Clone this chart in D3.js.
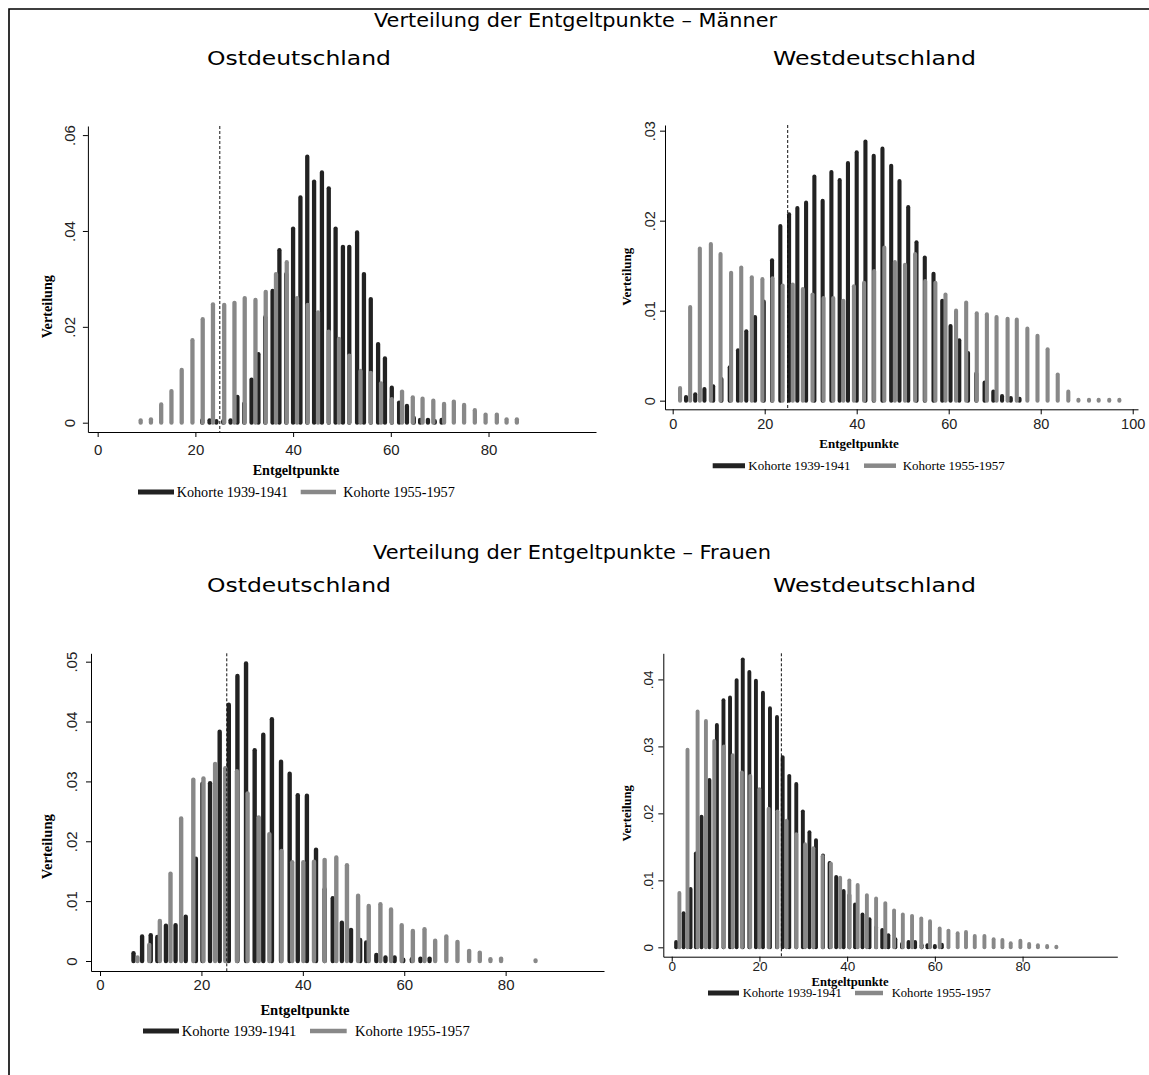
<!DOCTYPE html>
<html>
<head>
<meta charset="utf-8">
<script src="https://cdn.jsdelivr.net/npm/d3@7"></script>
<style>
  body { margin: 0; background: #fff; }
</style>
</head>
<body>
<svg id="chart" width="1149" height="1075"></svg>
<script>
// Entgeltpunkte (x) und Verteilung (y)
// Ostdeutschland, Maenner
var ostM1939X = [21.4, 22.9, 24.3, 25.7, 27.2, 28.6, 30.0, 31.5, 32.9, 34.3, 35.8, 37.2, 38.6, 40.0, 41.5, 42.9, 44.3, 45.9, 47.3, 48.7, 50.2, 51.5, 53.1, 54.5, 55.9, 57.4, 58.8, 60.2, 61.7, 63.3, 64.7, 66.0, 67.6, 69.0, 70.4];
var ostM1939Y = [0.0005, 0.0005, 0.0003, 0.0003, 0.0005, 0.0054, 0.004, 0.009, 0.0143, 0.022, 0.0275, 0.036, 0.031, 0.0405, 0.047, 0.0555, 0.0503, 0.0522, 0.0489, 0.0405, 0.0367, 0.0367, 0.0397, 0.031, 0.0258, 0.0164, 0.0134, 0.0073, 0.0042, 0.0035, 0.001, 0.0006, 0.0006, 0.0003, 0.0006];
var ostM1955X = [8.8, 10.9, 13.0, 15.1, 17.2, 19.4, 21.5, 23.6, 25.9, 28.0, 30.1, 32.3, 34.4, 36.5, 38.7, 40.8, 43.0, 45.1, 47.3, 49.4, 51.5, 53.8, 55.9, 58.0, 60.2, 62.3, 64.5, 66.5, 68.7, 70.9, 72.9, 75.0, 77.2, 79.4, 81.7, 83.7, 85.8];
var ostM1955Y = [0.0005, 0.0007, 0.0038, 0.0066, 0.011, 0.0172, 0.0216, 0.0247, 0.0246, 0.025, 0.026, 0.0256, 0.0273, 0.031, 0.0335, 0.026, 0.0246, 0.023, 0.019, 0.0175, 0.014, 0.0108, 0.0104, 0.0082, 0.0049, 0.0065, 0.0053, 0.005, 0.0046, 0.0039, 0.0044, 0.0037, 0.0026, 0.0017, 0.0017, 0.0007, 0.0007];

// Westdeutschland, Maenner
var westM1939X = [2.9, 4.9, 6.9, 8.8, 10.6, 12.4, 14.2, 16.0, 17.9, 19.8, 21.6, 23.4, 25.3, 27.1, 29.0, 30.8, 32.6, 34.5, 36.3, 38.1, 40.0, 41.9, 43.7, 45.6, 47.5, 49.3, 51.2, 53.0, 54.8, 56.7, 58.6, 60.4, 62.3, 64.2, 66.0, 67.8, 69.7, 71.6, 73.5, 75.4];
var westM1939Y = [0.0004, 0.0007, 0.0013, 0.0016, 0.0024, 0.0037, 0.0056, 0.0077, 0.0093, 0.011, 0.0156, 0.0194, 0.0207, 0.0214, 0.022, 0.0249, 0.0222, 0.0254, 0.0245, 0.0264, 0.0276, 0.0288, 0.0272, 0.028, 0.0261, 0.0244, 0.0215, 0.0176, 0.0159, 0.0141, 0.0111, 0.0083, 0.0067, 0.0053, 0.003, 0.002, 0.001, 0.0005, 0.0003, 0.0002];
var westM1955X = [1.6, 3.8, 5.9, 8.3, 10.4, 12.7, 14.9, 17.2, 19.5, 21.7, 23.9, 26.1, 28.3, 30.4, 32.8, 34.9, 37.1, 39.4, 41.6, 43.8, 46.0, 48.3, 50.5, 52.7, 54.9, 57.1, 59.3, 61.6, 63.8, 66.1, 68.3, 70.4, 72.8, 74.8, 77.1, 79.3, 81.5, 83.7, 86.0, 88.2, 90.5, 92.6, 94.9, 97.1];
var westM1955Y = [0.0014, 0.0104, 0.0169, 0.0174, 0.0163, 0.0142, 0.0148, 0.0137, 0.0135, 0.0136, 0.0128, 0.0129, 0.0124, 0.0118, 0.0114, 0.0114, 0.0111, 0.0127, 0.0131, 0.0144, 0.017, 0.0154, 0.0151, 0.0163, 0.0133, 0.0131, 0.0118, 0.01, 0.0109, 0.0097, 0.0096, 0.0093, 0.0091, 0.009, 0.008, 0.0072, 0.0057, 0.0029, 0.001, 0.0001, 0.0001, 0.0001, 0.0001, 0.0001];

// Ostdeutschland, Frauen
var ostF1939X = [6.6, 8.3, 10.0, 11.3, 13.0, 14.9, 16.9, 18.9, 20.2, 21.7, 23.6, 25.4, 27.1, 28.8, 30.5, 32.2, 33.9, 35.7, 37.4, 39.0, 40.8, 42.6, 44.3, 45.9, 47.7, 49.5, 51.3, 52.5, 54.5, 56.3, 58.1, 59.8, 61.5, 63.2, 65.0];
var ostF1939Y = [0.0013, 0.0041, 0.0043, 0.004, 0.0059, 0.006, 0.0074, 0.0171, 0.0296, 0.0297, 0.0383, 0.0428, 0.0476, 0.0497, 0.0352, 0.0378, 0.0404, 0.0333, 0.0313, 0.0277, 0.0276, 0.0186, 0.012, 0.0105, 0.0064, 0.0052, 0.0035, 0.0031, 0.001, 0.0006, 0.0006, 0.0002, 0.0003, 0.0004, 0.0004];
var ostF1955X = [7.4, 9.7, 11.8, 13.9, 16.0, 18.4, 20.4, 22.7, 24.7, 27.0, 29.1, 31.3, 33.4, 35.8, 37.9, 40.1, 42.2, 44.3, 46.6, 48.7, 50.9, 53.0, 55.3, 57.4, 59.5, 61.7, 64.0, 66.1, 68.3, 70.5, 72.8, 74.9, 77.0, 79.1, 85.9];
var ostF1955Y = [0.0006, 0.0027, 0.0067, 0.0146, 0.0238, 0.0303, 0.0305, 0.0329, 0.0322, 0.0317, 0.028, 0.024, 0.0212, 0.0184, 0.0165, 0.0165, 0.0166, 0.0169, 0.0173, 0.016, 0.0109, 0.0092, 0.0095, 0.0086, 0.006, 0.005, 0.0053, 0.0034, 0.0041, 0.0032, 0.0017, 0.0014, 0.0003, 0.0004, 0.0001];

// Westdeutschland, Frauen
var westF1939X = [1.0, 2.7, 4.3, 5.5, 6.8, 8.6, 10.3, 11.8, 13.3, 14.8, 16.2, 17.7, 19.2, 20.8, 22.4, 24.0, 25.3, 26.8, 28.4, 29.9, 31.4, 32.9, 34.5, 36.0, 37.5, 39.2, 40.5, 41.8, 43.5, 45.1, 46.6, 48.0, 49.4, 51.0, 52.5, 54.0, 55.5, 57.0, 58.3, 60.0, 61.6];
var westF1939Y = [0.0008, 0.0051, 0.0087, 0.014, 0.0195, 0.025, 0.0332, 0.0369, 0.0373, 0.0399, 0.043, 0.0411, 0.0398, 0.038, 0.0357, 0.0344, 0.0284, 0.0256, 0.0244, 0.0203, 0.0172, 0.016, 0.0137, 0.0126, 0.0105, 0.0084, 0.0078, 0.0064, 0.0049, 0.0042, 0.003, 0.0026, 0.0018, 0.0012, 0.0005, 0.0008, 0.0008, 0.0003, 0.0003, 0.0002, 0.0004];
var westF1955X = [1.75, 3.6, 5.9, 7.8, 9.7, 11.9, 13.9, 16.0, 17.9, 20.0, 22.1, 24.1, 26.2, 28.4, 30.4, 32.3, 34.4, 36.3, 38.4, 40.5, 42.4, 44.5, 46.6, 48.7, 50.7, 52.7, 54.8, 56.9, 58.9, 61.1, 63.1, 65.2, 67.1, 69.1, 71.3, 73.4, 75.4, 77.3, 79.5, 81.5, 83.5, 85.6, 87.7];
var westF1955Y = [0.0081, 0.0295, 0.0352, 0.0338, 0.0308, 0.03, 0.0287, 0.0261, 0.0256, 0.0236, 0.0207, 0.0203, 0.0189, 0.0169, 0.0154, 0.0148, 0.0136, 0.0125, 0.0104, 0.01, 0.0093, 0.0078, 0.0073, 0.0066, 0.0055, 0.0049, 0.0047, 0.0043, 0.0039, 0.0028, 0.0025, 0.0021, 0.0023, 0.0017, 0.0017, 0.0012, 0.0011, 0.0006, 0.001, 0.0005, 0.0003, 0.0002, 0.0001];

var cohorts = ["Kohorte 1939-1941", "Kohorte 1955-1957"];
var cutoff = 25;

var BLACK = "#222", GRAY = "#888";

var svg = d3.select("#chart");

// frame: only top and left edge visible
svg.append("path").attr("d", "M9,1075 V9 H1149")
    .attr("fill", "none").attr("stroke", "#000").attr("stroke-width", 1.6);

var headings = [
    {text: "Verteilung der Entgeltpunkte \u2013 M\u00e4nner", x0: 374, x1: 777, y: 27},
    {text: "Ostdeutschland", x0: 207, x1: 391, y: 65},
    {text: "Westdeutschland", x0: 773, x1: 976, y: 65},
    {text: "Verteilung der Entgeltpunkte \u2013 Frauen", x0: 373, x1: 771, y: 559},
    {text: "Ostdeutschland", x0: 207, x1: 391, y: 592},
    {text: "Westdeutschland", x0: 773, x1: 976, y: 592}
];
headings.forEach(function(h) {
    svg.append("text")
        .attr("x", h.x0).attr("y", h.y)
        .attr("textLength", h.x1 - h.x0).attr("lengthAdjust", "spacingAndGlyphs")
        .style("font-family", "'DejaVu Sans', Verdana, sans-serif")
        .style("font-size", "20px").attr("fill", "#000")
        .text(h.text);
});

var panels = [
    {bx: ostM1939X, by: ostM1939Y, gx: ostM1955X, gy: ostM1955Y,
     xd: [-2, 102], xr: [87.9, 596], yd: [-0.00194, 0.0619], yr: [432, 126],
     xt: [0, 20, 40, 60, 80], yt: [0, 0.02, 0.04, 0.06],
     tickFont: 15, xLab: 23, yLab: -13, barW: 4.3,
     font: 14.2, xTitle: [296, 474.5], yTitle: [46.7, 306.7],
     legY: 492, leg: [[138, 174, 176.7], [300.7, 336, 343.3]]},
    {bx: westM1939X, by: westM1939Y, gx: westM1955X, gy: westM1955Y,
     xd: [-1.67, 101.15], xr: [665, 1138], yd: [-0.00096, 0.03063], yr: [409.3, 125],
     xt: [0, 20, 40, 60, 80, 100], yt: [0, 0.01, 0.02, 0.03],
     tickFont: 14.5, xLab: 20, yLab: -10, barW: 4.1,
     font: 13, xTitle: [859, 447.5], yTitle: [626.7, 276.7],
     legY: 465.7, leg: [[712.7, 745, 748.3], [864, 896, 902.7]]},
    {bx: ostF1939X, by: ostF1939Y, gx: ostF1955X, gy: ostF1955Y,
     xd: [-1.78, 99.4], xr: [91, 604], yd: [-0.00167, 0.0514], yr: [971, 653.3],
     xt: [0, 20, 40, 60, 80], yt: [0, 0.01, 0.02, 0.03, 0.04, 0.05],
     tickFont: 15, xLab: 19, yLab: -14, barW: 4.4,
     font: 14.6, xTitle: [305, 1014.5], yTitle: [46.7, 846.7],
     legY: 1031, leg: [[143, 179, 181.7], [310, 346.7, 355]]},
    {bx: westF1939X, by: westF1939Y, gx: westF1955X, gy: westF1955Y,
     xd: [-1.92, 101.6], xr: [663.3, 1117.3], yd: [-0.0014, 0.0439], yr: [956.7, 653.3],
     xt: [0, 20, 40, 60, 80], yt: [0, 0.01, 0.02, 0.03, 0.04],
     tickFont: 13.5, xLab: 14, yLab: -10, barW: 3.9,
     font: 12.6, xTitle: [850, 985.5], yTitle: [626.7, 813.3],
     legY: 993, leg: [[708, 739, 742.7], [855, 883, 891.7]]}
];

var fmt = function(d) {
    return d === 0 ? "0" : d3.format(".2f")(d).replace(/^0/, "");
};

panels.forEach(function(p) {
    var x = d3.scaleLinear().domain(p.xd).range(p.xr);
    var y = d3.scaleLinear().domain(p.yd).range(p.yr);
    var g = svg.append("g");

    // bars: black cohort first, gray cohort drawn on top
    [[p.bx, p.by, BLACK], [p.gx, p.gy, GRAY]].forEach(function(s) {
        var pts = s[0].map(function(v, i) { return {x: v, y: s[1][i]}; });
        g.append("g").selectAll("line").data(pts).enter().append("line")
            .attr("x1", function(d) { return x(d.x); })
            .attr("x2", function(d) { return x(d.x); })
            .attr("y1", y(0))
            .attr("y2", function(d) { return y(d.y); })
            .attr("stroke", s[2])
            .attr("stroke-width", p.barW)
            .attr("stroke-linecap", "round");
    });

    // dashed line at 25 Entgeltpunkte
    g.append("line")
        .attr("x1", x(cutoff)).attr("x2", x(cutoff))
        .attr("y1", p.yr[1]).attr("y2", p.yr[0])
        .attr("stroke", "#111").attr("stroke-width", 1)
        .attr("stroke-dasharray", "3,2");

    // axes
    var xa = g.append("g").attr("transform", "translate(0," + p.yr[0] + ")")
        .call(d3.axisBottom(x).tickValues(p.xt).tickSize(5).tickSizeOuter(0));
    xa.selectAll("text").attr("y", p.xLab).attr("dy", 0)
        .style("font-family", "'Liberation Sans', Arial, sans-serif")
        .style("font-size", p.tickFont + "px").attr("fill", "#222");

    var ya = g.append("g").attr("transform", "translate(" + p.xr[0] + ",0)")
        .call(d3.axisLeft(y).tickValues(p.yt).tickFormat(fmt).tickSize(5).tickSizeOuter(0));
    ya.selectAll(".tick text")
        .attr("x", null).attr("dy", null)
        .attr("text-anchor", "middle")
        .attr("transform", "translate(" + p.yLab + ",0) rotate(-90)")
        .style("font-family", "'Liberation Sans', Arial, sans-serif")
        .style("font-size", p.tickFont + "px").attr("fill", "#222");
    g.selectAll(".domain, .tick line").attr("stroke", "#000").attr("stroke-width", 1);

    // axis titles
    g.append("text")
        .attr("x", p.xTitle[0]).attr("y", p.xTitle[1])
        .attr("text-anchor", "middle")
        .style("font-family", "'Liberation Serif', 'Times New Roman', serif")
        .style("font-weight", "bold").style("font-size", p.font + "px")
        .text("Entgeltpunkte");
    g.append("text")
        .attr("transform", "translate(" + (p.yTitle[0] + p.font * 0.35) + "," + p.yTitle[1] + ") rotate(-90)")
        .attr("text-anchor", "middle")
        .style("font-family", "'Liberation Serif', 'Times New Roman', serif")
        .style("font-weight", "bold").style("font-size", p.font + "px")
        .text("Verteilung");

    // legend
    p.leg.forEach(function(l, i) {
        g.append("line")
            .attr("x1", l[0]).attr("x2", l[1])
            .attr("y1", p.legY).attr("y2", p.legY)
            .attr("stroke", i === 0 ? BLACK : GRAY)
            .attr("stroke-width", i === 0 ? 5 : 4.5);
        g.append("text")
            .attr("x", l[2]).attr("y", p.legY + p.font * 0.33)
            .style("font-family", "'Liberation Serif', 'Times New Roman', serif")
            .style("font-size", p.font + "px")
            .text(cohorts[i]);
    });
});
</script>
</body>
</html>
